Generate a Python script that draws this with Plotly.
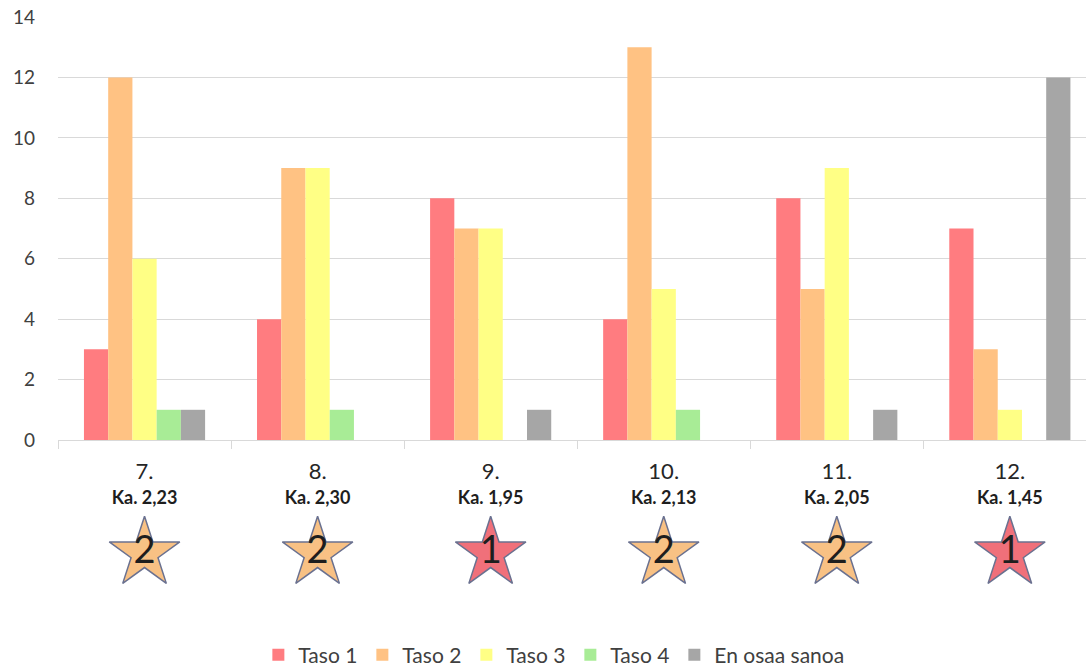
import plotly.graph_objects as go

# Survey results per grade, counts of answers per level
grades = ["7.", "8.", "9.", "10.", "11.", "12."]
averages = ["Ka. 2,23", "Ka. 2,30", "Ka. 1,95", "Ka. 2,13", "Ka. 2,05", "Ka. 1,45"]
star_levels = ["2", "2", "1", "2", "2", "1"]

series_names = ["Taso 1", "Taso 2", "Taso 3", "Taso 4", "En osaa sanoa"]
taso1 = [3, 4, 8, 4, 8, 7]
taso2 = [12, 9, 7, 13, 5, 3]
taso3 = [6, 9, 7, 5, 9, 1]
taso4 = [1, 1, 0, 1, 0, 0]
en_osaa = [1, 0, 1, 0, 1, 12]

series_values = [taso1, taso2, taso3, taso4, en_osaa]
series_colors = ["#FF7C80", "#FFC283", "#FFFF85", "#A8EC96", "#A6A6A6"]

star_fill = {"1": "#F0707A", "2": "#F8C184"}
FONT = "Lato"
TEXT_DARK = "#404040"

H = 669
TOP = 17
AXIS_BOTTOM = 440                      # pixel row of the value axis zero line
main_bottom = (H - AXIS_BOTTOM) / (H - TOP)

fig = go.Figure()

for name, vals, col in zip(series_names, series_values, series_colors):
    fig.add_trace(go.Bar(
        x=grades, y=vals, name=name,
        marker=dict(color=col, line=dict(width=0)),
    ))

# average values under each grade label (lower helper axis, 0..1)
fig.add_trace(go.Scatter(
    x=grades, y=[0.74] * len(grades), xaxis="x", yaxis="y2",
    mode="text", text=[f"<b>{a}</b>" for a in averages],
    textposition="middle center",
    textfont=dict(family=FONT, size=18, color="#1E1E1E"),
    cliponaxis=False, showlegend=False, hoverinfo="skip",
))

# level stars below the averages
fig.add_trace(go.Scatter(
    x=grades, y=[0.505] * len(grades), xaxis="x", yaxis="y2",
    mode="markers+text",
    text=star_levels,
    textposition="middle center",
    textfont=dict(family=FONT, size=38, color="#1E1E1E"),
    marker=dict(symbol="star", size=53,
                color=[star_fill[s] for s in star_levels],
                line=dict(color="#6A7190", width=1.5)),
    cliponaxis=False, showlegend=False, hoverinfo="skip",
))

fig.update_layout(
    width=1086, height=H,
    margin=dict(l=58, r=0, t=TOP, b=0, autoexpand=False),
    paper_bgcolor="white", plot_bgcolor="white",
    barmode="group", bargap=0.30, bargroupgap=0,
    font=dict(family=FONT, color=TEXT_DARK),
    legend=dict(
        orientation="h", xref="container", yref="paper",
        x=0.51, xanchor="center", y=-0.01, yanchor="bottom",
        font=dict(family=FONT, size=21, color=TEXT_DARK),
        itemwidth=30, traceorder="normal",
    ),
    xaxis=dict(
        type="category", range=[-0.5, 5.44], anchor="y",
        showline=True, linecolor="#D9D9D9", linewidth=1,
        ticks="outside", tickson="boundaries", ticklen=8,
        tickcolor="#D9D9D9", showgrid=False, ticklabelstandoff=12,
        tickfont=dict(family=FONT, size=22, color="#262626"),
    ),
    yaxis=dict(
        domain=[main_bottom, 1],
        range=[0, 14], dtick=2, showgrid=True,
        gridcolor="#D9D9D9", gridwidth=1, zeroline=False,
        ticks="", ticklabelstandoff=22,
        tickfont=dict(family=FONT, size=19, color=TEXT_DARK),
    ),
    yaxis2=dict(
        domain=[0, main_bottom], range=[0, 1], anchor="x",
        visible=False, fixedrange=True,
    ),
)

fig.write_html("out.html")
